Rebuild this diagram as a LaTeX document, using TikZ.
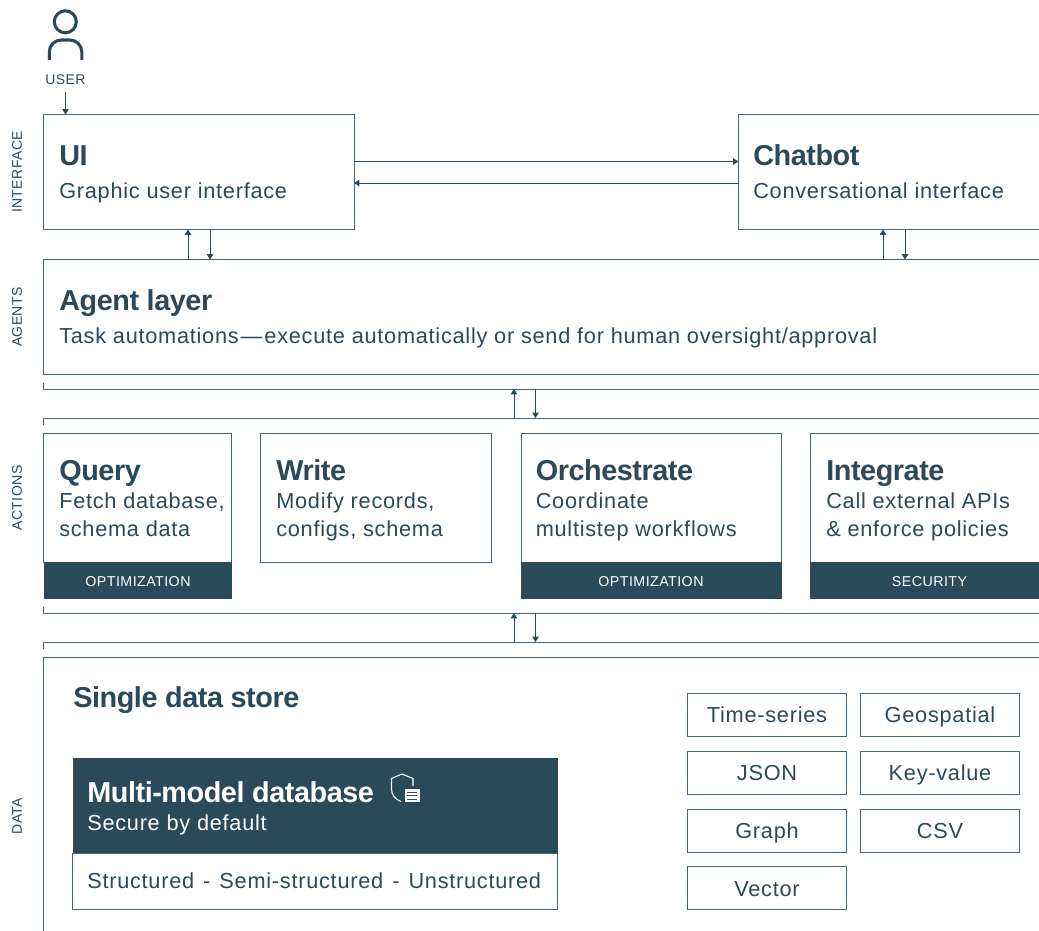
\documentclass[tikz,border=0pt]{standalone}
\usepackage{fontspec}
\usetikzlibrary{arrows.meta}
\setmainfont{Liberation Sans}
\newfontfamily\bodyf[LetterSpace=3.4]{Liberation Sans}
\newfontfamily\titlef[LetterSpace=-1.5]{Liberation Sans Bold}
\newfontfamily\capsf[LetterSpace=3]{Liberation Sans}
\definecolor{navy}{HTML}{2A4A5C}
\definecolor{edge}{HTML}{48657A}
\tikzset{
  box/.style={draw=edge,line width=0.75pt,fill=white,anchor=north west,inner sep=0pt,outer sep=0pt},
  band/.style={fill=navy,anchor=north west,inner sep=0pt,outer sep=0pt},
  tagbox/.style={draw=edge,line width=0.75pt,fill=white,inner sep=0pt,outer sep=0pt,minimum width=119.25pt,minimum height=32pt,text height=15pt,text depth=3pt,text=navy,font=\bodyf\fontsize{16.3pt}{16.3pt}\selectfont},
  titletxt/.style={anchor=base west,inner sep=0pt,text=navy,font=\titlef\fontsize{21.6pt}{21.6pt}\selectfont},
  subtxt/.style={anchor=base west,inner sep=0pt,text=navy,font=\bodyf\fontsize{16.3pt}{16.3pt}\selectfont},
  captxt/.style={inner sep=0pt,text=navy,font=\capsf\fontsize{10.5pt}{10.5pt}\selectfont},
  bandtxt/.style={inner sep=0pt,text=white,font=\capsf\fontsize{10.7pt}{10.7pt}\selectfont},
  rail/.style={draw=edge,line width=0.75pt},
  arr/.style={draw=navy,line width=0.75pt,-{Triangle[length=4pt,width=4.8pt]}},
}
\begin{document}
\begin{tikzpicture}[x=0.75pt,y=-0.75pt]
\useasboundingbox (0,0) rectangle (1039,931);
\clip (0,0) rectangle (1039,931);
% user icon
\node[captxt] (user) at (65.5,80) {USER};
\draw[navy,line width=2.3pt] (65.3,21.8) circle (11);
\draw[navy,line width=2.3pt,rounded corners=9pt] (49.3,60) -- (49.3,40) -- (81.8,40) -- (81.8,60);
% interface
\node[box,minimum width=232.9pt,minimum height=86.25pt] (ui) at (43.5,114.5) {};
\node[box,minimum width=240pt,minimum height=86.25pt] (chat) at (738.5,114.5) {};
\node[titletxt] (uit) at (59,165.5) {UI};
\node[subtxt] (uis) at (59,198) {Graphic user interface};
\node[titletxt] (chatt) at (753,165.5) {Chatbot};
\node[subtxt] (chats) at (753,198) {Conversational interface};
% agents
\node[box,minimum width=790pt,minimum height=86.25pt] (agent) at (43.5,259.5) {};
\node[titletxt] (agentt) at (59,310.5) {Agent layer};
\node[subtxt] (agents) at (59,343) {Task automations\kern1.5pt—\kern1.5pt execute automatically or send for human oversight/approval};
% rails
\coordinate (r1a) at (43.5,389);
\coordinate (r1b) at (1045,389);
\coordinate (r1t) at (43.5,383);
\coordinate (r2a) at (43.5,418);
\coordinate (r2b) at (1045,418);
\coordinate (r2t) at (43.5,425);
\coordinate (r3a) at (43.5,613);
\coordinate (r3b) at (1045,613);
\coordinate (r3t) at (43.5,607);
\coordinate (r4a) at (43.5,642);
\coordinate (r4b) at (1045,642);
\coordinate (r4t) at (43.5,649);
\draw[rail] (r1t) -- (r1a) -- (r1b);
\draw[rail] (r2t) -- (r2a) -- (r2b);
\draw[rail] (r3t) -- (r3a) -- (r3b);
\draw[rail] (r4t) -- (r4a) -- (r4b);
% actions
\node[box,minimum width=141pt,minimum height=97pt] (query) at (43.5,433) {};
\node[box,minimum width=173.25pt,minimum height=97pt] (write) at (260.5,433) {};
\node[box,minimum width=195pt,minimum height=97pt] (orch) at (521.5,433) {};
\node[box,minimum width=190pt,minimum height=97pt] (integ) at (810.5,433) {};
\node[band,minimum width=141pt,minimum height=27.75pt] (b1) at (43.5,562) {};
\node[band,minimum width=195.5pt,minimum height=27.75pt] (b2) at (521,562) {};
\node[band,minimum width=190pt,minimum height=27.75pt] (b3) at (810,562) {};
\node[bandtxt] (b1t) at (138,581.5) {OPTIMIZATION};
\node[bandtxt] (b2t) at (651,581.5) {OPTIMIZATION};
\node[bandtxt] (b3t) at (929.5,581.5) {SECURITY};
\node[titletxt] (qt) at (59,480.5) {Query};
\node[subtxt] (q1) at (59,508.5) {Fetch database,};
\node[subtxt] (q2) at (59,536.5) {schema data};
\node[titletxt] (wt) at (276,480.5) {Write};
\node[subtxt] (w1) at (276,508.5) {Modify records,};
\node[subtxt] (w2) at (276,536.5) {configs, schema};
\node[titletxt] (ot) at (535.5,480.5) {Orchestrate};
\node[subtxt] (o1) at (535.5,508.5) {Coordinate};
\node[subtxt] (o2) at (535.5,536.5) {multistep workflows};
\node[titletxt] (it) at (826,480.5) {Integrate};
\node[subtxt] (i1) at (826,508.5) {Call external APIs};
\node[subtxt] (i2) at (826,536.5) {\& enforce policies};
% data
\node[box,minimum width=790pt,minimum height=230pt] (data) at (43.5,657.5) {};
\node[titletxt] (dt) at (73,707.5) {Single data store};
\node[band,minimum width=364pt,minimum height=71.5pt] (mm) at (72.5,758) {};
\node[box,minimum width=363.5pt,minimum height=42pt] (mmb) at (72.5,853) {};
\node[titletxt,text=white] (mmt) at (87,802.5) {Multi-model database};
\node[subtxt,text=white] (mms) at (87,830.5) {Secure by default};
\node[subtxt] (mmx) at (87,888.5) {Structured\kern1.7pt{} -\kern1.7pt{} Semi-structured\kern1.7pt{} -\kern1.7pt{} Unstructured};
% shield icon
\draw[white,line width=0.8pt] (401,801.5) .. controls (395,799) and (391.5,795) .. (391.5,789) -- (391.5,778.5) -- (402,774) -- (413,778.5) -- (413,786);
\fill[white] (404.5,789) rectangle (419.5,802);
\draw[navy,line width=0.7pt] (407,792) -- (417,792) (407,795.5) -- (417,795.5) (407,799) -- (417,799);
% tags
\node[tagbox] (ts) at (767,714.75) {Time-series};
\node[tagbox] (geo) at (940,714.75) {Geospatial};
\node[tagbox] (json) at (767,772.75) {JSON};
\node[tagbox] (kv) at (940,772.75) {Key-value};
\node[tagbox] (graph) at (767,830.75) {Graph};
\node[tagbox] (csv) at (940,830.75) {CSV};
\node[tagbox] (vec) at (767,888.25) {Vector};
% side labels
\node[captxt,rotate=90] (l1) at (17,172) {INTERFACE};
\node[captxt,rotate=90] (l2) at (17,317) {AGENTS};
\node[captxt,rotate=90] (l3) at (17,498) {ACTIONS};
\node[captxt,rotate=90] (l4) at (17,816) {DATA};
% connectors
\coordinate (h1) at (0,161.5);
\coordinate (h2) at (0,183);
\coordinate (v1) at (188,0);
\coordinate (v2) at (210,0);
\coordinate (v3) at (883,0);
\coordinate (v4) at (905,0);
\coordinate (v5) at (514,0);
\coordinate (v6) at (535.5,0);
\coordinate (ua) at (65.5,92.5);
\draw[arr] (ua) -- (ua |- ui.north);
\draw[arr] (ui.east |- h1) -- (chat.west |- h1);
\draw[arr] (chat.west |- h2) -- (ui.east |- h2);
\draw[arr] (agent.north -| v1) -- (ui.south -| v1);
\draw[arr] (ui.south -| v2) -- (agent.north -| v2);
\draw[arr] (agent.north -| v3) -- (chat.south -| v3);
\draw[arr] (chat.south -| v4) -- (agent.north -| v4);
\draw[arr] (r2a -| v5) -- (r1a -| v5);
\draw[arr] (r1a -| v6) -- (r2a -| v6);
\draw[arr] (r4a -| v5) -- (r3a -| v5);
\draw[arr] (r3a -| v6) -- (r4a -| v6);
\end{tikzpicture}
\end{document}
